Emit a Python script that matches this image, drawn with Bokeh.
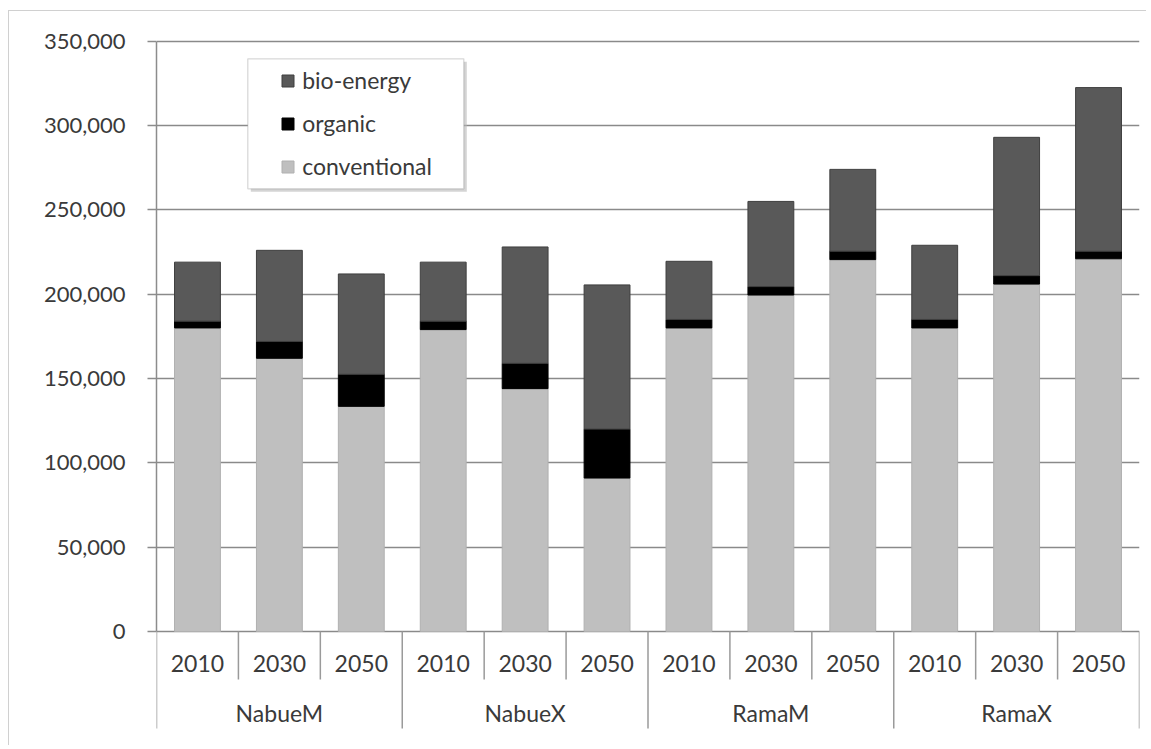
from bokeh.plotting import figure
from bokeh.models import (ColumnDataSource, FactorRange, Range1d, FixedTicker,
                          NumeralTickFormatter, Legend, LegendItem, BoxAnnotation)
from bokeh.core.properties import value
from bokeh.embed import file_html
from bokeh.resources import INLINE

# ---------------- data ----------------
groups = ["NabueM", "NabueX", "RamaM", "RamaX"]
years = ["2010", "2030", "2050"]
series = ["conventional", "organic", "bio-energy"]
conventional = [180000, 162000, 133500, 179000, 144000, 91000,
                180000, 199500, 220500, 180000, 206000, 221000]
organic = [4000, 10000, 19000, 5000, 15000, 29000,
           5000, 5000, 5000, 5000, 5000, 4500]
bio_energy = [35000, 54000, 59500, 35000, 69000, 85500,
              34500, 50500, 48500, 44000, 82000, 97000]
y_ticks = [0, 50000, 100000, 150000, 200000, 250000, 300000, 350000]

# ---------------- layout constants (pixels on the page) ----------------
ORG_X, ORG_Y = 9, 11            # canvas origin on the page (margin + border)
FIG_W, FIG_H = 1138, 735
FRAME_L, FRAME_R = 156, 1139
FRAME_T, FRAME_B = ORG_Y, ORG_Y + FIG_H
ZERO_PX, TOP_PX = 631, 40.7
UPP = y_ticks[-1] / (ZERO_PX - TOP_PX)      # data units per pixel

factors = [(g, y) for g in groups for y in years]
n = len(factors)


def yv(px):
    return (ZERO_PX - px) * UPP


def xv(px):
    return (px - FRAME_L) / (FRAME_R - FRAME_L) * n


FONT = "Lato"
TXT = "#3a3a3a"
FS = "23px"
FS_Y = "22px"
colors = ["#bfbfbf", "#000000", "#595959"]
edges = ["#b0b0b0", "#000000", "#3f3f3f"]

p = figure(x_range=FactorRange(factors=factors, factor_padding=0, group_padding=0,
                               subgroup_padding=0, range_padding=0),
           y_range=Range1d(yv(FRAME_B), yv(FRAME_T)),
           width=FIG_W, height=FIG_H, output_backend="svg", toolbar_location=None,
           x_axis_location=None, min_border_left=FRAME_L - ORG_X,
           min_border_right=ORG_X + FIG_W - FRAME_R, min_border_top=0, min_border_bottom=0)
p.outline_line_color = None
p.background_fill_color = "white"
p.border_fill_color = "white"
p.styles = {"margin-left": "8px", "margin-top": "10px",
            "border-left": "1px solid #d0d0d0", "border-top": "1px solid #d0d0d0"}

# grid
p.xgrid.visible = False
p.ygrid.ticker = FixedTicker(ticks=y_ticks)
p.ygrid.grid_line_color = "#8a8a8a"
p.ygrid.grid_line_width = 1.3

# y axis
ax = p.yaxis[0]
ax.ticker = FixedTicker(ticks=y_ticks)
ax.bounds = (y_ticks[0], y_ticks[-1])
ax.formatter = NumeralTickFormatter(format="0,0")
ax.axis_line_color = "#8c8c8c"
ax.axis_line_width = 1.5
ax.major_tick_line_color = "#8c8c8c"
ax.major_tick_line_width = 1.3
ax.major_tick_out = 9
ax.major_tick_in = 0
ax.minor_tick_out = 0
ax.minor_tick_in = 0
ax.major_label_standoff = 22
ax.major_label_text_font = FONT
ax.major_label_text_font_size = FS_Y
ax.major_label_text_color = TXT

# stacked bars
src = ColumnDataSource(dict(x=factors, conventional=conventional, organic=organic,
                            **{"bio-energy": bio_energy}))
rs = p.vbar_stack(series, x="x", width=0.56, source=src,
                  fill_color=colors, line_color=edges, line_width=1)

# category axis drawn inside the frame below zero
yr_sep_x = [gi * len(years) + j for gi in range(len(groups)) for j in range(1, len(years))]
grp_sep_x = [gi * len(years) for gi in range(len(groups) + 1)]
p.segment(x0=yr_sep_x, x1=yr_sep_x, y0=[0] * len(yr_sep_x), y1=[yv(679)] * len(yr_sep_x),
          line_color="#9a9a9a", line_width=1.5)
p.segment(x0=grp_sep_x, x1=grp_sep_x, y0=[0] * len(grp_sep_x), y1=[yv(728)] * len(grp_sep_x),
          line_color="#9a9a9a", line_width=1.5)
p.text(x=factors, y=[yv(663)] * n, text=[f[1] for f in factors],
       text_align="center", text_baseline="middle", text_font=value(FONT),
       text_font_size=FS, text_color=TXT)
p.text(x=groups, y=[yv(712)] * len(groups), text=groups,
       text_align="center", text_baseline="middle", text_font=value(FONT),
       text_font_size=FS, text_color=TXT)

# legend box + shadow
BL, BR, BT, BB = 247.3, 463.3, 58.3, 188.3
shadow = BoxAnnotation(left=xv(BL + 3), right=xv(BR + 3), top=yv(BT + 3), bottom=yv(BB + 3),
                       fill_color="#b8b8b8", fill_alpha=0.6, line_color=None)
box = BoxAnnotation(left=xv(BL), right=xv(BR), top=yv(BT), bottom=yv(BB),
                    fill_color="white", fill_alpha=1, line_color="#7f7f7f", line_width=1.3)
p.add_layout(shadow)
p.add_layout(box)

legend = Legend(items=[LegendItem(label=series[2], renderers=[rs[2]]),
                       LegendItem(label=series[1], renderers=[rs[1]]),
                       LegendItem(label=series[0], renderers=[rs[0]])],
                location=(280.2 - FRAME_L, FRAME_B - 180.3),
                padding=0, margin=0, spacing=15, glyph_width=15, glyph_height=15,
                label_height=28, label_standoff=7, label_text_font=FONT,
                label_text_font_size=FS, label_text_color=TXT,
                border_line_color=None, background_fill_alpha=0)
p.add_layout(legend)

open("out.html", "w").write(file_html(p, INLINE))
